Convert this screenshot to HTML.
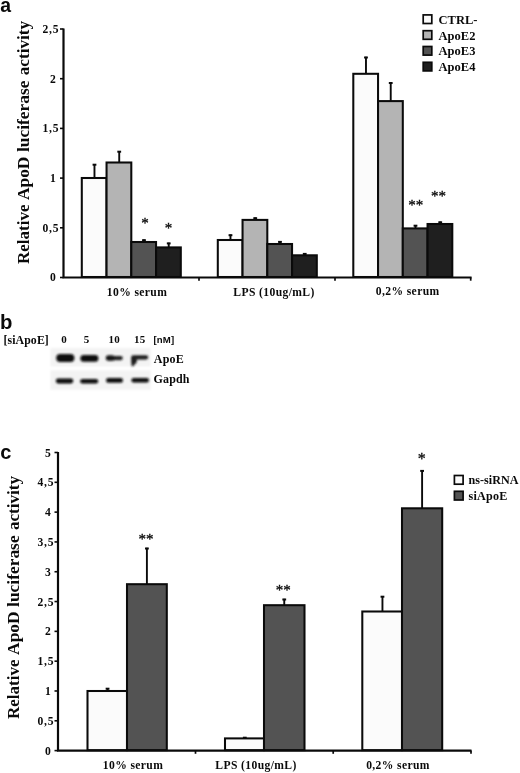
<!DOCTYPE html>
<html><head><meta charset="utf-8"><title>Figure</title>
<style>
html,body{margin:0;padding:0;background:#fff;}
body{width:520px;height:773px;overflow:hidden;font-family:"Liberation Serif",serif;}
svg{display:block;will-change:transform;}
text{fill:#0a0a0a;}
</style></head><body>
<svg width="520" height="773" viewBox="0 0 520 773">
<rect width="520" height="773" fill="#ffffff"/>
<path d="M63.5 28.5V277.5H471.6" stroke="#0a0a0a" stroke-width="2.2" fill="none"/>
<path d="M60.0 277.5H63.5" stroke="#0a0a0a" stroke-width="1.6"/>
<text x="56.6" y="281.35" text-anchor="end" font-size="11.6" font-weight="bold" font-family="Liberation Serif" letter-spacing="0.7" >0</text>
<path d="M60.0 227.8H63.5" stroke="#0a0a0a" stroke-width="1.6"/>
<text x="59.2" y="231.65" text-anchor="end" font-size="11.6" font-weight="bold" font-family="Liberation Serif" letter-spacing="0.7" >0,5</text>
<path d="M60.0 178.1H63.5" stroke="#0a0a0a" stroke-width="1.6"/>
<text x="56.6" y="181.95" text-anchor="end" font-size="11.6" font-weight="bold" font-family="Liberation Serif" letter-spacing="0.7" >1</text>
<path d="M60.0 128.39999999999998H63.5" stroke="#0a0a0a" stroke-width="1.6"/>
<text x="59.2" y="132.24999999999997" text-anchor="end" font-size="11.6" font-weight="bold" font-family="Liberation Serif" letter-spacing="0.7" >1,5</text>
<path d="M60.0 78.69999999999999H63.5" stroke="#0a0a0a" stroke-width="1.6"/>
<text x="56.6" y="82.54999999999998" text-anchor="end" font-size="11.6" font-weight="bold" font-family="Liberation Serif" letter-spacing="0.7" >2</text>
<path d="M60.0 29.0H63.5" stroke="#0a0a0a" stroke-width="1.6"/>
<text x="59.2" y="32.85" text-anchor="end" font-size="11.6" font-weight="bold" font-family="Liberation Serif" letter-spacing="0.7" >2,5</text>
<path d="M199 277.5V280.7" stroke="#0a0a0a" stroke-width="1.7"/>
<path d="M335 277.5V280.7" stroke="#0a0a0a" stroke-width="1.7"/>
<path d="M470.7 277.5V280.7" stroke="#0a0a0a" stroke-width="1.7"/>
<path d="M94.475 178V164" stroke="#0a0a0a" stroke-width="1.9" fill="none"/>
<rect x="92.57499999999999" y="163.7" width="3.8" height="2" fill="#0a0a0a"/>
<path d="M119.225 162.5V151" stroke="#0a0a0a" stroke-width="1.9" fill="none"/>
<rect x="117.32499999999999" y="150.7" width="3.8" height="2" fill="#0a0a0a"/>
<path d="M143.97500000000002 242V239.5" stroke="#0a0a0a" stroke-width="1.9" fill="none"/>
<rect x="142.07500000000002" y="239.2" width="3.8" height="2" fill="#0a0a0a"/>
<path d="M168.72500000000002 247.4V242.7" stroke="#0a0a0a" stroke-width="1.9" fill="none"/>
<rect x="166.82500000000002" y="242.39999999999998" width="3.8" height="2" fill="#0a0a0a"/>
<rect x="81.8" y="178" width="24.75" height="99.0" fill="#fbfbfb" stroke="#0a0a0a" stroke-width="2.05"/>
<rect x="106.55" y="162.5" width="24.750000000000014" height="114.5" fill="#b4b4b4" stroke="#0a0a0a" stroke-width="2.05"/>
<rect x="131.3" y="242" width="24.75" height="35.0" fill="#535353" stroke="#0a0a0a" stroke-width="2.05"/>
<rect x="156.05" y="247.4" width="24.75" height="29.599999999999994" fill="#1f1f1f" stroke="#0a0a0a" stroke-width="2.05"/>
<path d="M230.47500000000002 240V234.5" stroke="#0a0a0a" stroke-width="1.9" fill="none"/>
<rect x="228.57500000000002" y="234.2" width="3.8" height="2" fill="#0a0a0a"/>
<path d="M255.22500000000002 219.9V217.5" stroke="#0a0a0a" stroke-width="1.9" fill="none"/>
<rect x="253.32500000000002" y="217.2" width="3.8" height="2" fill="#0a0a0a"/>
<path d="M279.975 244V241.2" stroke="#0a0a0a" stroke-width="1.9" fill="none"/>
<rect x="278.07500000000005" y="240.89999999999998" width="3.8" height="2" fill="#0a0a0a"/>
<path d="M304.725 255.3V253.2" stroke="#0a0a0a" stroke-width="1.9" fill="none"/>
<rect x="302.82500000000005" y="252.89999999999998" width="3.8" height="2" fill="#0a0a0a"/>
<rect x="217.8" y="240" width="24.75" height="37.0" fill="#fbfbfb" stroke="#0a0a0a" stroke-width="2.05"/>
<rect x="242.55" y="219.9" width="24.75" height="57.099999999999994" fill="#b4b4b4" stroke="#0a0a0a" stroke-width="2.05"/>
<rect x="267.3" y="244" width="24.75" height="33.0" fill="#535353" stroke="#0a0a0a" stroke-width="2.05"/>
<rect x="292.05" y="255.3" width="24.75" height="21.69999999999999" fill="#1f1f1f" stroke="#0a0a0a" stroke-width="2.05"/>
<path d="M365.975 73.8V56.8" stroke="#0a0a0a" stroke-width="1.9" fill="none"/>
<rect x="364.07500000000005" y="56.5" width="3.8" height="2" fill="#0a0a0a"/>
<path d="M390.725 101.1V82.3" stroke="#0a0a0a" stroke-width="1.9" fill="none"/>
<rect x="388.82500000000005" y="82.0" width="3.8" height="2" fill="#0a0a0a"/>
<path d="M415.475 228.4V225" stroke="#0a0a0a" stroke-width="1.9" fill="none"/>
<rect x="413.57500000000005" y="224.7" width="3.8" height="2" fill="#0a0a0a"/>
<path d="M440.225 224V221.6" stroke="#0a0a0a" stroke-width="1.9" fill="none"/>
<rect x="438.32500000000005" y="221.29999999999998" width="3.8" height="2" fill="#0a0a0a"/>
<rect x="353.3" y="73.8" width="24.75" height="203.2" fill="#fbfbfb" stroke="#0a0a0a" stroke-width="2.05"/>
<rect x="378.05" y="101.1" width="24.75" height="175.9" fill="#b4b4b4" stroke="#0a0a0a" stroke-width="2.05"/>
<rect x="402.8" y="228.4" width="24.75" height="48.599999999999994" fill="#535353" stroke="#0a0a0a" stroke-width="2.05"/>
<rect x="427.55" y="224" width="24.75" height="53.0" fill="#1f1f1f" stroke="#0a0a0a" stroke-width="2.05"/>
<text x="145" y="228" text-anchor="middle" font-size="15" font-weight="normal" font-family="Liberation Serif" letter-spacing="0" stroke="#0a0a0a" stroke-width="0.3">*</text>
<text x="168.5" y="232.7" text-anchor="middle" font-size="15" font-weight="normal" font-family="Liberation Serif" letter-spacing="0" stroke="#0a0a0a" stroke-width="0.3">*</text>
<text x="415.8" y="210.3" text-anchor="middle" font-size="15" font-weight="normal" font-family="Liberation Serif" letter-spacing="0" stroke="#0a0a0a" stroke-width="0.3">**</text>
<text x="438.6" y="201.2" text-anchor="middle" font-size="15" font-weight="normal" font-family="Liberation Serif" letter-spacing="0" stroke="#0a0a0a" stroke-width="0.3">**</text>
<text x="137" y="295.5" text-anchor="middle" font-size="11.6" font-weight="bold" font-family="Liberation Serif" letter-spacing="0.38" >10% serum</text>
<text x="274" y="295.5" text-anchor="middle" font-size="11.6" font-weight="bold" font-family="Liberation Serif" letter-spacing="0.38" >LPS (10ug/mL)</text>
<text x="407.7" y="295" text-anchor="middle" font-size="11.6" font-weight="bold" font-family="Liberation Serif" letter-spacing="0.38" >0,2% serum</text>
<rect x="423.2" y="14.90" width="8.6" height="8.6" fill="#fbfbfb" stroke="#0a0a0a" stroke-width="1.7"/>
<text x="438.6" y="23.95" text-anchor="start" font-size="12.5" font-weight="bold" font-family="Liberation Serif" letter-spacing="0" >CTRL-</text>
<rect x="423.2" y="30.70" width="8.6" height="8.6" fill="#b4b4b4" stroke="#0a0a0a" stroke-width="1.7"/>
<text x="438.6" y="39.63" text-anchor="start" font-size="12.5" font-weight="bold" font-family="Liberation Serif" letter-spacing="0" >ApoE2</text>
<rect x="423.2" y="46.50" width="8.6" height="8.6" fill="#535353" stroke="#0a0a0a" stroke-width="1.7"/>
<text x="438.6" y="55.31" text-anchor="start" font-size="12.5" font-weight="bold" font-family="Liberation Serif" letter-spacing="0" >ApoE3</text>
<rect x="423.2" y="62.30" width="8.6" height="8.6" fill="#1f1f1f" stroke="#0a0a0a" stroke-width="1.7"/>
<text x="438.6" y="70.99" text-anchor="start" font-size="12.5" font-weight="bold" font-family="Liberation Serif" letter-spacing="0" >ApoE4</text>
<text transform="translate(28.9,264.1) rotate(-90)" font-size="17.42" font-weight="bold" font-family="Liberation Serif" textLength="59.6" lengthAdjust="spacingAndGlyphs">Relative</text>
<text transform="translate(28.9,200.0) rotate(-90)" font-size="17.42" font-weight="bold" font-family="Liberation Serif" textLength="43.4" lengthAdjust="spacingAndGlyphs">ApoD</text>
<text transform="translate(28.9,152.0) rotate(-90)" font-size="17.42" font-weight="bold" font-family="Liberation Serif" textLength="71.5" lengthAdjust="spacingAndGlyphs">luciferase</text>
<text transform="translate(28.9,75.2) rotate(-90)" font-size="17.42" font-weight="bold" font-family="Liberation Serif" textLength="54.2" lengthAdjust="spacingAndGlyphs">activity</text>
<text x="0.3" y="11.9" text-anchor="start" font-size="19.4" font-weight="bold" font-family="Liberation Sans" letter-spacing="0" >a</text>
<text x="-0.1" y="328.7" text-anchor="start" font-size="20.3" font-weight="bold" font-family="Liberation Sans" letter-spacing="0" >b</text>
<text x="3.4" y="343.6" text-anchor="start" font-size="11.8" font-weight="bold" font-family="Liberation Serif" letter-spacing="0.12" >[siApoE]</text>
<text x="64" y="343.4" text-anchor="middle" font-size="11" font-weight="bold" font-family="Liberation Serif" letter-spacing="0.1" >0</text>
<text x="86.5" y="343.4" text-anchor="middle" font-size="11" font-weight="bold" font-family="Liberation Serif" letter-spacing="0.1" >5</text>
<text x="114.2" y="343.4" text-anchor="middle" font-size="11" font-weight="bold" font-family="Liberation Serif" letter-spacing="0.1" >10</text>
<text x="139.7" y="343.4" text-anchor="middle" font-size="11" font-weight="bold" font-family="Liberation Serif" letter-spacing="0.1" >15</text>
<text x="153.4" y="343.2" text-anchor="start" font-size="9.6" font-weight="bold" font-family="Liberation Sans" letter-spacing="0.2" >[nM]</text>
<text x="153.8" y="363" text-anchor="start" font-size="12" font-weight="bold" font-family="Liberation Serif" letter-spacing="0.2" >ApoE</text>
<text x="153.6" y="383.4" text-anchor="start" font-size="12" font-weight="bold" font-family="Liberation Serif" letter-spacing="0.1" >Gapdh</text>
<defs><filter id="bl" x="-20%" y="-60%" width="140%" height="220%"><feGaussianBlur stdDeviation="1.25"/></filter><filter id="bl2" x="-20%" y="-60%" width="140%" height="220%"><feGaussianBlur stdDeviation="0.9"/></filter><filter id="bl3" x="-5%" y="-10%" width="110%" height="120%"><feGaussianBlur stdDeviation="0.8"/></filter></defs>
<g filter="url(#bl3)"><rect x="50.5" y="348" width="100.3" height="18.5" fill="#f3f3f3"/>
<rect x="50.5" y="370.3" width="100.3" height="19.5" fill="#f3f3f3"/></g>
<g filter="url(#bl)" fill="#0c0c0c">
<rect x="56.2" y="354" width="18.2" height="8" rx="4"/>
<rect x="80.4" y="355.1" width="18" height="6.6" rx="3.3"/>
<rect x="55.8" y="378.6" width="17.5" height="4.8" rx="2.4"/>
<rect x="80.2" y="379" width="18" height="4.5" rx="2.25"/>
<rect x="106" y="378.1" width="17" height="4.7" rx="2.35"/>
<rect x="131.4" y="378" width="17.6" height="4.5" rx="2.25"/>
</g>
<g filter="url(#bl2)">
<rect x="106" y="356" width="16.8" height="4.2" rx="2.1" fill="#222"/>
<rect x="105.8" y="355.2" width="9" height="5.6" rx="2.8" fill="#121212"/>
<rect x="131.2" y="355.2" width="17" height="4.2" rx="2.1" fill="#1c1c1c"/>
<path d="M131.2 357 h5.6 v5 l-3.6 4.2 h-1.4 l-0.6 -4 z" fill="#1c1c1c"/>
</g>
<path d="M58 452.0V750.6H471.5" stroke="#0a0a0a" stroke-width="2.2" fill="none"/>
<path d="M54.5 750.6H58" stroke="#0a0a0a" stroke-width="1.6"/>
<text x="51.4" y="754.7" text-anchor="end" font-size="11.6" font-weight="bold" font-family="Liberation Serif" letter-spacing="0.7" >0</text>
<path d="M54.5 720.79H58" stroke="#0a0a0a" stroke-width="1.6"/>
<text x="54.2" y="724.89" text-anchor="end" font-size="11.6" font-weight="bold" font-family="Liberation Serif" letter-spacing="0.7" >0,5</text>
<path d="M54.5 690.98H58" stroke="#0a0a0a" stroke-width="1.6"/>
<text x="51.4" y="695.08" text-anchor="end" font-size="11.6" font-weight="bold" font-family="Liberation Serif" letter-spacing="0.7" >1</text>
<path d="M54.5 661.1700000000001H58" stroke="#0a0a0a" stroke-width="1.6"/>
<text x="54.2" y="665.2700000000001" text-anchor="end" font-size="11.6" font-weight="bold" font-family="Liberation Serif" letter-spacing="0.7" >1,5</text>
<path d="M54.5 631.36H58" stroke="#0a0a0a" stroke-width="1.6"/>
<text x="51.4" y="635.46" text-anchor="end" font-size="11.6" font-weight="bold" font-family="Liberation Serif" letter-spacing="0.7" >2</text>
<path d="M54.5 601.55H58" stroke="#0a0a0a" stroke-width="1.6"/>
<text x="54.2" y="605.65" text-anchor="end" font-size="11.6" font-weight="bold" font-family="Liberation Serif" letter-spacing="0.7" >2,5</text>
<path d="M54.5 571.74H58" stroke="#0a0a0a" stroke-width="1.6"/>
<text x="51.4" y="575.84" text-anchor="end" font-size="11.6" font-weight="bold" font-family="Liberation Serif" letter-spacing="0.7" >3</text>
<path d="M54.5 541.9300000000001H58" stroke="#0a0a0a" stroke-width="1.6"/>
<text x="54.2" y="546.0300000000001" text-anchor="end" font-size="11.6" font-weight="bold" font-family="Liberation Serif" letter-spacing="0.7" >3,5</text>
<path d="M54.5 512.12H58" stroke="#0a0a0a" stroke-width="1.6"/>
<text x="51.4" y="516.22" text-anchor="end" font-size="11.6" font-weight="bold" font-family="Liberation Serif" letter-spacing="0.7" >4</text>
<path d="M54.5 482.31H58" stroke="#0a0a0a" stroke-width="1.6"/>
<text x="54.2" y="486.41" text-anchor="end" font-size="11.6" font-weight="bold" font-family="Liberation Serif" letter-spacing="0.7" >4,5</text>
<path d="M54.5 452.5H58" stroke="#0a0a0a" stroke-width="1.6"/>
<text x="51.4" y="456.6" text-anchor="end" font-size="11.6" font-weight="bold" font-family="Liberation Serif" letter-spacing="0.7" >5</text>
<path d="M195.5 750.6V753.8000000000001" stroke="#0a0a0a" stroke-width="1.7"/>
<path d="M333.2 750.6V753.8000000000001" stroke="#0a0a0a" stroke-width="1.7"/>
<path d="M471 750.6V753.8000000000001" stroke="#0a0a0a" stroke-width="1.7"/>
<path d="M107.55 691V688" stroke="#0a0a0a" stroke-width="1.9" fill="none"/>
<rect x="105.64999999999999" y="687.7" width="3.8" height="2" fill="#0a0a0a"/>
<path d="M146.9 584.2V547.8" stroke="#0a0a0a" stroke-width="1.9" fill="none"/>
<rect x="145.0" y="547.5" width="3.8" height="2" fill="#0a0a0a"/>
<rect x="87.5" y="691" width="39.5" height="59.10000000000002" fill="#fbfbfb" stroke="#0a0a0a" stroke-width="2.05"/>
<rect x="127" y="584.2" width="39.80000000000001" height="165.89999999999998" fill="#535353" stroke="#0a0a0a" stroke-width="2.05"/>
<path d="M244.8 738.4V737" stroke="#0a0a0a" stroke-width="1.9" fill="none"/>
<rect x="242.9" y="736.7" width="3.8" height="2" fill="#0a0a0a"/>
<path d="M284.25 605.2V598.8" stroke="#0a0a0a" stroke-width="1.9" fill="none"/>
<rect x="282.35" y="598.5" width="3.8" height="2" fill="#0a0a0a"/>
<rect x="225" y="738.4" width="39" height="11.700000000000045" fill="#fbfbfb" stroke="#0a0a0a" stroke-width="2.05"/>
<rect x="264" y="605.2" width="40.5" height="144.89999999999998" fill="#535353" stroke="#0a0a0a" stroke-width="2.05"/>
<path d="M382.45 611.5V596" stroke="#0a0a0a" stroke-width="1.9" fill="none"/>
<rect x="380.55" y="595.7" width="3.8" height="2" fill="#0a0a0a"/>
<path d="M422.1 508.3V470.2" stroke="#0a0a0a" stroke-width="1.9" fill="none"/>
<rect x="420.20000000000005" y="469.9" width="3.8" height="2" fill="#0a0a0a"/>
<rect x="362.3" y="611.5" width="39.69999999999999" height="138.60000000000002" fill="#fbfbfb" stroke="#0a0a0a" stroke-width="2.05"/>
<rect x="402" y="508.3" width="40.19999999999999" height="241.8" fill="#535353" stroke="#0a0a0a" stroke-width="2.05"/>
<text x="146" y="543.5" text-anchor="middle" font-size="15" font-weight="normal" font-family="Liberation Serif" letter-spacing="0" stroke="#0a0a0a" stroke-width="0.3">**</text>
<text x="283.2" y="594.8" text-anchor="middle" font-size="15" font-weight="normal" font-family="Liberation Serif" letter-spacing="0" stroke="#0a0a0a" stroke-width="0.3">**</text>
<text x="421.8" y="463.7" text-anchor="middle" font-size="16" font-weight="normal" font-family="Liberation Serif" letter-spacing="0" stroke="#0a0a0a" stroke-width="0.3">*</text>
<text x="133" y="768.8" text-anchor="middle" font-size="11.6" font-weight="bold" font-family="Liberation Serif" letter-spacing="0.38" >10% serum</text>
<text x="256" y="768.5" text-anchor="middle" font-size="11.6" font-weight="bold" font-family="Liberation Serif" letter-spacing="0.38" >LPS (10ug/mL)</text>
<text x="398" y="768.5" text-anchor="middle" font-size="11.6" font-weight="bold" font-family="Liberation Serif" letter-spacing="0.38" >0,2% serum</text>
<rect x="454.4" y="475.50" width="8.7" height="8.7" fill="#fbfbfb" stroke="#0a0a0a" stroke-width="1.7"/>
<text x="468.5" y="484.45" text-anchor="start" font-size="12.1" font-weight="bold" font-family="Liberation Serif" letter-spacing="0.05" >ns-siRNA</text>
<rect x="454.4" y="491.30" width="8.7" height="8.7" fill="#535353" stroke="#0a0a0a" stroke-width="1.7"/>
<text x="468.5" y="499.65" text-anchor="start" font-size="12.1" font-weight="bold" font-family="Liberation Serif" letter-spacing="0.25" >siApoE</text>
<text transform="translate(18.6,719.0) rotate(-90)" font-size="17.42" font-weight="bold" font-family="Liberation Serif" textLength="59.6" lengthAdjust="spacingAndGlyphs">Relative</text>
<text transform="translate(18.6,654.9) rotate(-90)" font-size="17.42" font-weight="bold" font-family="Liberation Serif" textLength="43.4" lengthAdjust="spacingAndGlyphs">ApoD</text>
<text transform="translate(18.6,606.9) rotate(-90)" font-size="17.42" font-weight="bold" font-family="Liberation Serif" textLength="71.5" lengthAdjust="spacingAndGlyphs">luciferase</text>
<text transform="translate(18.6,530.1) rotate(-90)" font-size="17.42" font-weight="bold" font-family="Liberation Serif" textLength="54.2" lengthAdjust="spacingAndGlyphs">activity</text>
<text x="0.2" y="459.1" text-anchor="start" font-size="20" font-weight="bold" font-family="Liberation Sans" letter-spacing="0" >c</text>
</svg>
</body></html>
